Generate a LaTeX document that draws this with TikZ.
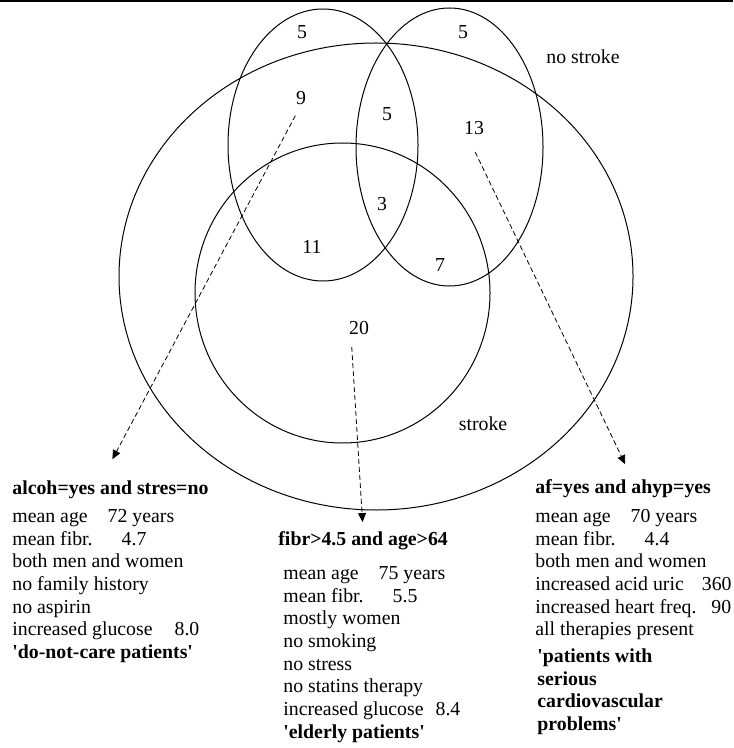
\documentclass[tikz,border=0pt]{standalone}
\usepackage{fontspec}
\setmainfont{Liberation Serif}
\usepackage{tikz}
\usetikzlibrary{arrows.meta,positioning}

\begin{document}
\begin{tikzpicture}[x=0.5pt,y=-0.5pt,
        vennline/.style={line width=0.5pt},
        cnt/.style={inner sep=0pt,font=\fontsize{9.9}{11.35}\selectfont},
        rulehead/.style={inner sep=0pt,anchor=base west,font=\fontsize{9.9}{11.35}\selectfont\bfseries},
        ruleinfo/.style={inner sep=0pt,anchor=north west,align=left,font=\fontsize{9.9}{11.35}\selectfont},
        pointer/.style={line width=0.4pt,dash pattern=on 2.5pt off 1.5pt,-{Triangle[length=4.5pt,width=4pt]}}]
    \useasboundingbox (0,0) rectangle (733,748);
    \draw[line width=1.2pt] (0,1) -- (733,1);

    % the four sets
    \draw[vennline] (376,276.5) ellipse [x radius=128.5pt,y radius=116.75pt];
    \draw[vennline] (323,145) ellipse [x radius=47.5pt,y radius=68pt];
    \draw[vennline] (449.5,147) ellipse [x radius=46.75pt,y radius=69.5pt];
    \draw[vennline] (342.5,293) ellipse [x radius=73.75pt,y radius=75pt];

    % counts
    \node[cnt] (n5a) at (302,32) {5};
    \node[cnt] (n5b) at (463,32) {5};
    \node[cnt] (nostroke) at (583,57) {no stroke};
    \node[cnt] (n9) at (301,98) {9};
    \node[cnt] (n5c) at (387,114) {5};
    \node[cnt] (n13) at (474,128) {13};
    \node[cnt] (n3) at (382,204) {3};
    \node[cnt] (n11) at (312,247) {11};
    \node[cnt] (n7) at (440,265) {7};
    \node[cnt] (n20) at (359,328) {20};
    \node[cnt] (stroke) at (483,424) {stroke};

    % rule descriptions
    \node[rulehead] (alcoh) at (12,494) {alcoh=yes and stres=no};
    \node[ruleinfo] (alcohinfo) at (12,506.1) {\strut mean age\hspace{10pt}72 years\\
        mean fibr.\hspace{14.5pt}4.7\\
        both men and women\\
        no family history\\
        no aspirin\\
        increased glucose\hspace{11pt}8.0\\
        \textbf{\textquotesingle do-not-care patients\textquotesingle}};

    \node[rulehead] (fibr) at (278,545) {fibr>4.5 and age>64};
    \node[ruleinfo] (fibrinfo) at (283,563.1) {\strut mean age\hspace{10pt}75 years\\
        mean fibr.\hspace{14.5pt}5.5\\
        mostly women\\
        no smoking\\
        no stress\\
        no statins therapy\\
        increased glucose\hspace{6pt}8.4\\
        \textbf{\textquotesingle elderly patients\textquotesingle}};

    \node[rulehead] (afhyp) at (535,493) {af=yes and ahyp=yes};
    \node[ruleinfo] (afhypinfo) at (535,506.1) {\strut mean age\hspace{10pt}70 years\\
        mean fibr.\hspace{14.5pt}4.4\\
        both men and women\\
        increased acid uric\hspace{9pt}360\\
        increased heart freq.\hspace{7.5pt}90\\
        all therapies present};
    \node[ruleinfo,font=\fontsize{9.9}{11.35}\selectfont\bfseries] (afhypname) at (537,646.1) {\strut\textquotesingle patients with\\
        serious\\
        cardiovascular\\
        problems\textquotesingle};

    % pointers
    \draw[pointer,shorten <=6pt,shorten >=11.7pt] (n9.south) -- ([xshift=-4.5pt]alcoh.north);
    \draw[pointer,shorten <=6pt,shorten >=4.3pt] ([xshift=-4pt]n20.south) -- (fibr.north);
    \draw[pointer,shorten <=9.4pt,shorten >=8pt] ([xshift=-3.5pt]n13.south) -- ([xshift=4.5pt]afhyp.north);
\end{tikzpicture}
\end{document}
